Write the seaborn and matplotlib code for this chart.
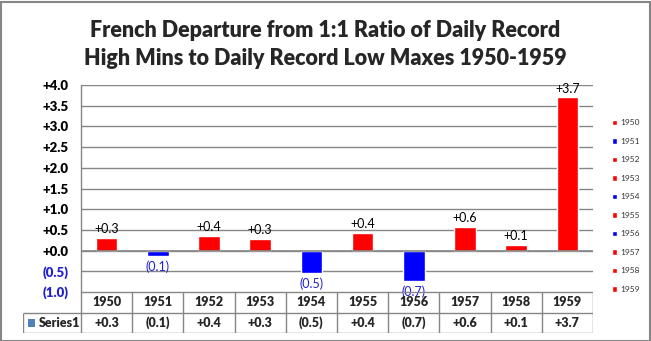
import matplotlib
matplotlib.use("Agg")
import matplotlib.pyplot as plt
import seaborn as sns
import pandas as pd
from matplotlib.patches import Rectangle
from matplotlib.lines import Line2D

# Departure values per year
years = ["1950", "1951", "1952", "1953", "1954", "1955", "1956", "1957", "1958", "1959"]
values = [0.31, -0.14, 0.36, 0.28, -0.54, 0.43, -0.74, 0.58, 0.14, 3.70]
series_name = "Series1"
title = "French Departure from 1:1 Ratio of Daily Record\nHigh Mins to Daily Record Low Maxes 1950-1959"
y_ticks = [-1.0, -0.5, 0.0, 0.5, 1.0, 1.5, 2.0, 2.5, 3.0, 3.5, 4.0]

RED = "#FF0000"
BLUE = "#0000FF"
GRID = "#868686"
NEG_TEXT = "#2222CC"


def fmt(v):
    return f"+{v:.1f}" if v >= 0 else f"({abs(v):.1f})"


df = pd.DataFrame({"year": years, "value": values})
palette = {y: (RED if v >= 0 else BLUE) for y, v in zip(years, values)}

sns.set_style("white")
plt.rcParams["font.family"] = ["Lato", "DejaVu Sans"]

W, H = 651, 341
fig = plt.figure(figsize=(W / 100, H / 100), dpi=100)
fig.patch.set_facecolor("white")


def px_box(x0, y0, x1, y1):
    return [x0 / W, 1 - y1 / H, (x1 - x0) / W, (y1 - y0) / H]


ax = fig.add_axes(px_box(81, 85, 593, 292))
sns.barplot(data=df, x="year", y="value", hue="year", palette=palette,
            width=0.42, dodge=False, saturation=1, ax=ax, legend=True)

ax.set_xlim(-0.5, 9.5)
ax.set_ylim(-1.0, 4.0)
ax.set_yticks(y_ticks)
ax.set_yticklabels([fmt(t) for t in y_ticks])
for lbl, t in zip(ax.get_yticklabels(), y_ticks):
    lbl.set_color(NEG_TEXT if t < 0 else "black")
    lbl.set_fontweight("heavy")
    lbl.set_fontsize(9.5)
ax.tick_params(axis="y", direction="out", length=5, width=1, color=GRID, pad=4)
ax.set_xticks([])
ax.set_xlabel("")
ax.set_ylabel("")
for t in y_ticks:
    ax.axhline(t, color=GRID, lw=1, zorder=0)
ax.axhline(0, color=GRID, lw=1.2, zorder=3)
for s in ["top", "right", "bottom"]:
    ax.spines[s].set_visible(False)
ax.spines["left"].set_color(GRID)
ax.spines["left"].set_linewidth(1)

# Value labels on bars
for i, v in enumerate(values):
    if v >= 0:
        ax.annotate(fmt(v), (i, v), xytext=(0, 2), textcoords="offset points",
                    ha="center", va="bottom", fontsize=9, color="black")
    else:
        ax.annotate(fmt(v), (i, v), xytext=(0, -3), textcoords="offset points",
                    ha="center", va="top", fontsize=9, color=NEG_TEXT)

# Legend on the right
handles, labels = ax.get_legend_handles_labels()
leg = ax.legend(handles, labels, loc="upper left", bbox_to_anchor=(1.03, 0.85),
                frameon=False, fontsize=6, handlelength=0.6, handleheight=0.6,
                handletextpad=0.4, labelspacing=1.38, borderaxespad=0)
for txt in leg.get_texts():
    txt.set_color("#333333")

fig.suptitle(title, fontsize=15.5, fontweight="heavy", y=0.94, linespacing=1.4)

# Data table below the plot
cat_w = 512 / 10
tab = fig.add_axes(px_box(23, 292, 593, 333))
left_edge = -0.5 - 58 / cat_w
tab.set_xlim(left_edge, 9.5)
tab.set_ylim(0, 2)
tab.axis("off")
lk = dict(color=GRID, lw=1, solid_capstyle="butt")
tab.add_line(Line2D([-0.5, 9.5], [2, 2], **lk))
tab.add_line(Line2D([left_edge, 9.5], [1, 1], **lk))
tab.add_line(Line2D([left_edge, 9.5], [0, 0], **lk))
tab.add_line(Line2D([left_edge, left_edge], [0, 1], **lk))
for k in range(11):
    tab.add_line(Line2D([k - 0.5, k - 0.5], [0, 2], **lk))
for i, (y, v) in enumerate(zip(years, values)):
    tab.text(i, 1.5, y, ha="center", va="center", fontsize=9, fontweight="heavy")
    tab.text(i, 0.5, fmt(v), ha="center", va="center", fontsize=9, fontweight="heavy")
tab.add_patch(Rectangle((left_edge + 0.1, 0.3), 0.14, 0.4, color="#4F81BD", lw=0))
tab.text(left_edge + 0.3, 0.5, series_name, ha="left", va="center",
         fontsize=9, fontweight="heavy")

# Outer chart frame
fig.patches.append(Rectangle((0.5 / W, 0.5 / H), 1 - 2 / W, 1 - 2 / H,
                             transform=fig.transFigure, fill=False,
                             edgecolor=GRID, lw=1.5))

fig.savefig("out.png", dpi=100, facecolor="white")
